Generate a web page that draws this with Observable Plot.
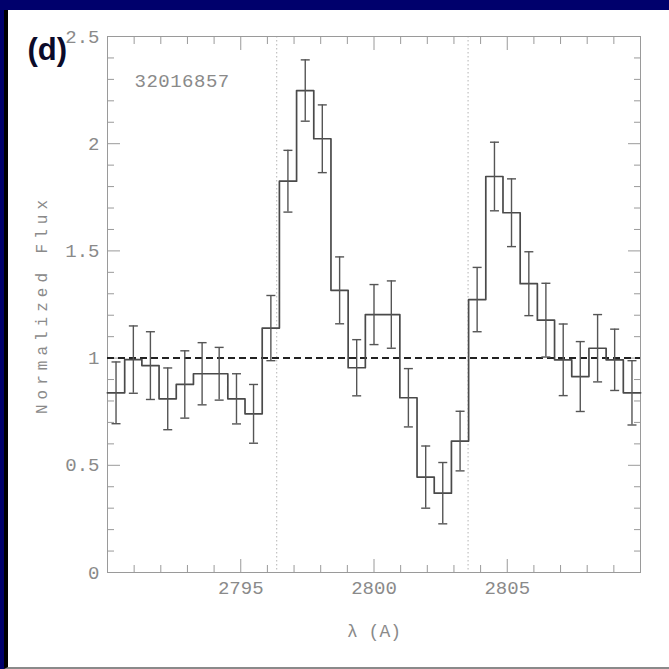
<!DOCTYPE html>
<html>
<head>
<meta charset="utf-8">
<script src="https://cdn.jsdelivr.net/npm/d3@7"></script>
<script src="https://cdn.jsdelivr.net/npm/@observablehq/plot@0.6"></script>
<style>
  html, body { margin: 0; padding: 0; width: 669px; height: 669px; overflow: hidden; background: #00006c; }
  #panel { position: absolute; left: 4px; top: 10px; width: 661px; height: 657px; background: #fff;
           border-left: 4px solid #000; border-bottom: 2px solid #8a8a8a; }
  #panel svg { display: block; }
  .ylab text { letter-spacing: 5px; }
  .objid text { letter-spacing: 0.5px; }
</style>
</head>
<body>
<div id="panel"></div>
<script>
// Mg II 2796/2803 doublet region: binned normalized flux with 1-sigma errors
const wavelength = [
  2790.32, 2790.97, 2791.61, 2792.26, 2792.90, 2793.55, 2794.19, 2794.84,
  2795.48, 2796.13, 2796.77, 2797.42, 2798.06, 2798.71, 2799.35, 2800.00,
  2800.65, 2801.29, 2801.94, 2802.58, 2803.23, 2803.87, 2804.52, 2805.16,
  2805.81, 2806.45, 2807.10, 2807.74, 2808.39, 2809.03, 2809.68
];
const flux = [
  0.838, 0.993, 0.965, 0.810, 0.877, 0.927, 0.927, 0.810,
  0.740, 1.140, 1.825, 2.248, 2.023, 1.316, 0.955, 1.203,
  1.203, 0.815, 0.445, 0.370, 0.613, 1.273, 1.847, 1.678,
  1.347, 1.177, 0.992, 0.914, 1.046, 0.992, 0.838
];
const fluxErr = [
  0.144, 0.157, 0.158, 0.144, 0.157, 0.145, 0.123, 0.117,
  0.137, 0.152, 0.144, 0.143, 0.158, 0.156, 0.131, 0.140,
  0.157, 0.136, 0.145, 0.143, 0.139, 0.150, 0.160, 0.158,
  0.149, 0.172, 0.167, 0.163, 0.157, 0.143, 0.150
];
const restLines = [2796.35, 2803.53];   // Mg II rest wavelengths
const continuum = [1];
const objectId = "32016857";
const panelTag = "(d)";

const xMajor = [2795, 2800, 2805];
const xMinor = [2791, 2792, 2793, 2794, 2796, 2797, 2798, 2799, 2801, 2802, 2803, 2804, 2806, 2807, 2808, 2809];
const yMajor = [0, 0.5, 1, 1.5, 2, 2.5];
const yMinor = [0.1, 0.2, 0.3, 0.4, 0.6, 0.7, 0.8, 0.9, 1.1, 1.2, 1.3, 1.4, 1.6, 1.7, 1.8, 1.9, 2.1, 2.2, 2.3, 2.4];

const bins = wavelength.map((x, i) => ({x, flux: flux[i], lo: flux[i] - fluxErr[i], hi: flux[i] + fluxErr[i]}));

// histogram outline: each bin spans halfway to its neighbours
const edges = wavelength.map((x, i) => {
  const prev = i > 0 ? wavelength[i - 1] : 2 * x - wavelength[i + 1];
  return (x + prev) / 2;
});
const n = wavelength.length;
const lastEdge = wavelength[n - 1] + (wavelength[n - 1] - wavelength[n - 2]) / 2;
const steps = edges.map((e, i) => ({x: e, y: flux[i]})).concat([{x: lastEdge, y: flux[n - 1]}]);

// horizontal cap for error bars
const cap = {draw(context, size) { const w = Math.sqrt(size / Math.PI); context.moveTo(-w, 0); context.lineTo(w, 0); }};

const tickColor = "#9a9a9a";
const textColor = "#8a8a8a";
const mono = "Liberation Mono, DejaVu Sans Mono, monospace";

const chart = Plot.plot({
  width: 661,
  height: 657,
  marginLeft: 99,
  marginRight: 29,
  marginTop: 26,
  marginBottom: 95,
  style: {background: "#fff", fontFamily: mono, fontSize: "19px", overflow: "visible"},
  x: {domain: [2790, 2810]},
  y: {domain: [0, 2.5]},
  marks: [
    Plot.ruleX(restLines, {stroke: "#b4b4b4", strokeWidth: 1, strokeDasharray: "1.5,2.5"}),
    Plot.frame({stroke: tickColor, strokeWidth: 1}),
    // inward ticks on all four sides
    Plot.axisY(yMinor, {anchor: "left", tickSize: -7, fill: "none", stroke: tickColor, label: null}),
    Plot.axisY(yMajor, {anchor: "left", tickSize: -13, fill: "none", stroke: tickColor, label: null}),
    Plot.axisY(yMinor, {anchor: "right", tickSize: -7, fill: "none", stroke: tickColor, label: null}),
    Plot.axisY(yMajor, {anchor: "right", tickSize: -13, fill: "none", stroke: tickColor, label: null}),
    Plot.axisX(xMinor, {anchor: "bottom", tickSize: -7, fill: "none", stroke: tickColor, label: null}),
    Plot.axisX(xMajor, {anchor: "bottom", tickSize: -13, fill: "none", stroke: tickColor, label: null}),
    Plot.axisX(xMinor, {anchor: "top", tickSize: -7, fill: "none", stroke: tickColor, label: null}),
    Plot.axisX(xMajor, {anchor: "top", tickSize: -13, fill: "none", stroke: tickColor, label: null}),
    // tick labels
    Plot.axisY(yMajor, {anchor: "left", tickSize: 0, tickPadding: 8, stroke: "none", fill: textColor,
      fontFamily: mono, fontSize: 19, tickFormat: d => String(d), label: null}),
    Plot.axisX(xMajor, {anchor: "bottom", tickSize: 0, tickPadding: 8, stroke: "none", fill: textColor,
      fontFamily: mono, fontSize: 19, tickFormat: d => String(d), label: null}),
    // continuum level
    Plot.ruleY(continuum, {stroke: "#222", strokeWidth: 2, strokeDasharray: "7,4"}),
    // binned spectrum
    Plot.line(steps, {x: "x", y: "y", curve: "step-after", stroke: "#4a4a4a", strokeWidth: 1.7}),
    Plot.ruleX(bins, {x: "x", y1: "lo", y2: "hi", stroke: "#555", strokeWidth: 1.4}),
    Plot.dot(bins, {x: "x", y: "lo", symbol: cap, r: 4.5, fill: "none", stroke: "#555", strokeWidth: 1.4}),
    Plot.dot(bins, {x: "x", y: "hi", symbol: cap, r: 4.5, fill: "none", stroke: "#555", strokeWidth: 1.4}),
    // annotations
    Plot.text([objectId], {frameAnchor: "top-left", dx: 27, dy: 44, textAnchor: "start", lineAnchor: "middle",
      fill: textColor, fontFamily: mono, fontSize: 19, className: "objid"}),
    Plot.text([panelTag], {frameAnchor: "top-left", dx: -80, dy: 14, textAnchor: "start", lineAnchor: "middle",
      fill: "#0b0b2a", fontFamily: "Liberation Sans, Arial, sans-serif", fontWeight: "bold", fontSize: 31}),
    Plot.text(["Normalized Flux"], {frameAnchor: "left", dx: -66, rotate: -90, textAnchor: "middle", lineAnchor: "middle",
      fill: textColor, fontFamily: mono, fontSize: 16, className: "ylab"}),
    Plot.text(["λ (A)"], {frameAnchor: "bottom", dy: 59, textAnchor: "middle", lineAnchor: "middle",
      fill: textColor, fontFamily: mono, fontSize: 18})
  ]
});
document.getElementById("panel").appendChild(chart);
</script>
</body>
</html>
